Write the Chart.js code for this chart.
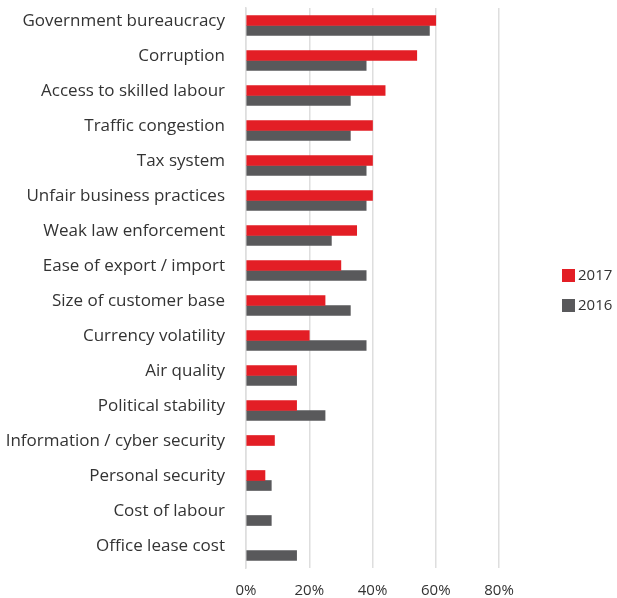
<!DOCTYPE html>
<html>
<head>
<meta charset="utf-8">
<script src="https://cdn.jsdelivr.net/npm/chart.js@4/dist/chart.umd.min.js"></script>
<style>
  html, body { margin: 0; padding: 0; background: #fff; }
  #wrap { width: 617px; height: 598px; }
</style>
</head>
<body>
<div id="wrap"><canvas id="c" width="617" height="598"></canvas></div>
<script>
const categories = [
  'Government bureaucracy',
  'Corruption',
  'Access to skilled labour',
  'Traffic congestion',
  'Tax system',
  'Unfair business practices',
  'Weak law enforcement',
  'Ease of export / import',
  'Size of customer base',
  'Currency volatility',
  'Air quality',
  'Political stability',
  'Information / cyber security',
  'Personal security',
  'Cost of labour',
  'Office lease cost'
];
const values2017 = [60, 54, 44, 40, 40, 40, 35, 30, 25, 20, 16, 16, 9, 6, null, null];
const values2016 = [58, 38, 33, 33, 38, 38, 27, 38, 33, 38, 16, 25, null, 8, 8, 16];
const xTicks = [0, 20, 40, 60, 80];

const RED = '#e31e25';
const GREY = '#59595b';
const TEXT = '#333333';
const FONT = '"Open Sans", "Noto Sans", sans-serif';

// Side legend drawn to the right of the plot area
const sideLegend = {
  id: 'sideLegend',
  afterDraw(chart) {
    const ctx = chart.ctx;
    const x = 562, y0 = 269, gap = 30, box = 13;
    ctx.save();
    ctx.font = '15px ' + FONT;
    ctx.textBaseline = 'middle';
    ctx.textAlign = 'left';
    chart.data.datasets.forEach((ds, i) => {
      const y = y0 + i * gap;
      ctx.fillStyle = ds.backgroundColor;
      ctx.fillRect(x, y, box, box);
      ctx.fillStyle = TEXT;
      ctx.fillText(ds.label, x + 16, y + box / 2 + 0.5);
    });
    ctx.restore();
  }
};

new Chart(document.getElementById('c'), {
  type: 'bar',
  data: {
    labels: categories,
    datasets: [
      { label: '2017', data: values2017, backgroundColor: RED, barThickness: 10 },
      { label: '2016', data: values2016, backgroundColor: GREY, barThickness: 10 }
    ]
  },
  options: {
    indexAxis: 'y',
    responsive: false,
    animation: false,
    layout: { padding: { top: 8, right: 118, left: 0, bottom: 0 } },
    plugins: {
      legend: { display: false },
      tooltip: { enabled: false }
    },
    scales: {
      x: {
        min: 0,
        max: 80,
        afterBuildTicks(scale) {
          scale.ticks = xTicks.map(v => ({ value: v }));
        },
        afterFit(scale) { scale.height = 30; },
        grid: { color: '#dedede', lineWidth: 1.5, drawTicks: false },
        border: { display: false },
        ticks: {
          padding: 14,
          color: TEXT,
          font: { family: FONT, size: 15 },
          callback: v => v + '%'
        }
      },
      y: {
        afterFit(scale) {
          scale.width = 246;
          scale.paddingTop = 0;
          scale.paddingBottom = 0;
        },
        grid: {
          display: true,
          drawOnChartArea: false,
          drawTicks: true,
          tickLength: 21,
          color: 'rgba(0,0,0,0)'
        },
        border: { display: true, color: '#dedede', width: 1.5 },
        ticks: {
          padding: 0,
          labelOffset: -4,
          color: TEXT,
          font: { family: FONT, size: 17 }
        }
      }
    }
  },
  plugins: [sideLegend]
});
</script>
</body>
</html>
